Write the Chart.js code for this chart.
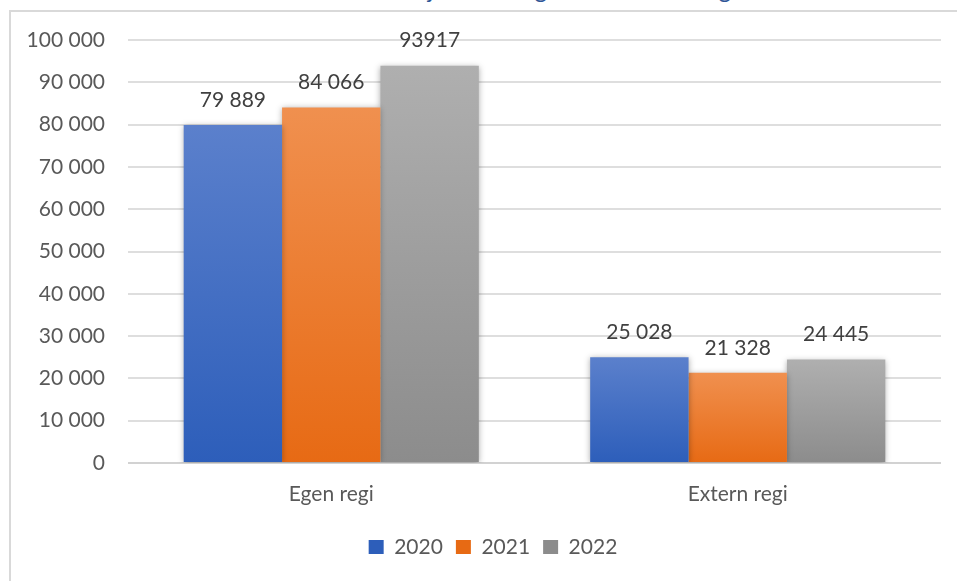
<!DOCTYPE html>
<html lang="sv">
<head>
<meta charset="utf-8">
<title>Hemtjänsttimmar – egen och extern regi</title>
<script src="https://cdn.jsdelivr.net/npm/chart.js@4.4.0/dist/chart.umd.min.js"></script>
<style>
  html, body { margin: 0; padding: 0; background: #fff; }
  body { width: 957px; height: 581px; position: relative; overflow: hidden; font-family: Lato, "Open Sans", sans-serif; }
  /* heading sits above the frame, mostly outside the page top */
  #title { position: absolute; left: 0; top: -23px; width: 884px; text-align: center;
           font-size: 24px; line-height: 24px; color: #2f5597; white-space: nowrap; }
  #frame { position: absolute; left: 9px; top: 10px; width: 1000px; height: 640px;
           border-left: 2px solid #d9d9d9; border-top: 2px solid #d9d9d9; }
  #chart { position: absolute; left: 0; top: 0; }
</style>
</head>
<body>
<div id="title">Utförda timmar inom hemtjänsten i egen och extern regi</div>
<div id="frame"></div>
<!-- the chart object runs a little past the right page edge -->
<canvas id="chart" width="976" height="581"></canvas>

<script>
// ── Data ────────────────────────────────────────────────────────────────
const categories = ['Egen regi', 'Extern regi'];
const years = ['2020', '2021', '2022'];
const hours2020 = [79889, 25028];
const hours2021 = [84066, 21328];
const hours2022 = [93917, 24445];
const yMax = 100000;
const yStep = 10000;

// the 2022 own-management figure is printed without a thousands gap
const ungroupedLabels = { 2: [0] };

// ── Styling ─────────────────────────────────────────────────────────────
const FONT = 'Lato';
const TEXT_AXIS = '#595959';
const TEXT_VALUE = '#404040';

const spaced = v => String(v).replace(/\B(?=(\d{3})+(?!\d))/g, ' ');

// vertical fill per bar: lighter at the top, darker at the base
function barGradient(top, bottom, flat) {
    return function (ctx) {
        if (ctx.type !== 'data') return flat;
        const y = ctx.chart.scales.y;
        if (!y) return flat;
        const y0 = y.getPixelForValue(0);
        const y1 = y.getPixelForValue(ctx.raw);
        if (!isFinite(y0) || !isFinite(y1) || y0 === y1) return flat;
        const g = ctx.chart.ctx.createLinearGradient(0, y1, 0, y0);
        g.addColorStop(0, top);
        g.addColorStop(1, bottom);
        return g;
    };
}

// soft shadow under the bars, then the value above each bar
const valueLabels = {
    id: 'valueLabels',
    beforeDatasetsDraw(chart) {
        const c = chart.ctx;
        c.save();
        c.shadowColor = 'rgba(0,0,0,0.32)';
        c.shadowBlur = 6;
        c.shadowOffsetX = 0;
        c.shadowOffsetY = 1;
    },
    afterDatasetsDraw(chart) {
        const c = chart.ctx;
        c.restore();
        c.save();
        c.font = '21px ' + FONT;
        c.fillStyle = TEXT_VALUE;
        c.textAlign = 'center';
        c.textBaseline = 'middle';
        chart.data.datasets.forEach((ds, i) => {
            chart.getDatasetMeta(i).data.forEach((bar, j) => {
                const v = ds.data[j];
                const plain = (ungroupedLabels[i] || []).includes(j);
                c.fillText(plain ? String(v) : spaced(v), bar.x, bar.y - 25);
            });
        });
        c.restore();
    }
};

function draw() {
    Chart.defaults.font.family = FONT;

    new Chart(document.getElementById('chart'), {
        type: 'bar',
        data: {
            labels: categories,
            datasets: [
                { label: years[0], data: hours2020,
                  backgroundColor: barGradient('#5b80cc', '#2d5eba', '#4470c4') },
                { label: years[1], data: hours2021,
                  backgroundColor: barGradient('#f0904f', '#e76a14', '#ed7d31') },
                { label: years[2], data: hours2022,
                  backgroundColor: barGradient('#afafaf', '#8c8c8c', '#a0a0a0') }
            ]
        },
        options: {
            responsive: false,
            animation: false,
            layout: { padding: { left: 10, right: 0, top: 40, bottom: 13.5 } },
            datasets: {
                bar: { categoryPercentage: 0.726, barPercentage: 1, borderWidth: 0 }
            },
            plugins: {
                legend: {
                    position: 'bottom',
                    labels: {
                        boxWidth: 15, boxHeight: 14, padding: 13,
                        color: TEXT_AXIS, font: { size: 21 }
                    }
                },
                tooltip: { enabled: false }
            },
            scales: {
                x: {
                    grid: { display: false, drawTicks: false },
                    border: { display: false },
                    ticks: { padding: 19, color: TEXT_AXIS, font: { size: 21 } },
                    afterFit(s) { s.height = 60.5; }
                },
                y: {
                    min: 0, max: yMax,
                    ticks: {
                        stepSize: yStep, padding: 23, color: TEXT_AXIS,
                        font: { size: 21 }, callback: v => spaced(v)
                    },
                    grid: {
                        drawTicks: false, lineWidth: 2,
                        color: c => c.tick && c.tick.value === 0 ? '#d2d2d2' : '#dedede'
                    },
                    border: { display: false },
                    afterFit(s) { s.width = 118; }
                },
                // empty margin on the right of the plot; keeps the legend centred on the whole object
                gutter: {
                    type: 'linear', position: 'right',
                    ticks: { display: false },
                    grid: { display: false, drawTicks: false },
                    border: { display: false },
                    afterFit(s) { s.width = 35; }
                }
            }
        },
        plugins: [valueLabels]
    });
}

if (document.fonts && document.fonts.load) {
    document.fonts.load('21px ' + FONT).then(draw, draw);
} else {
    draw();
}
</script>
</body>
</html>
